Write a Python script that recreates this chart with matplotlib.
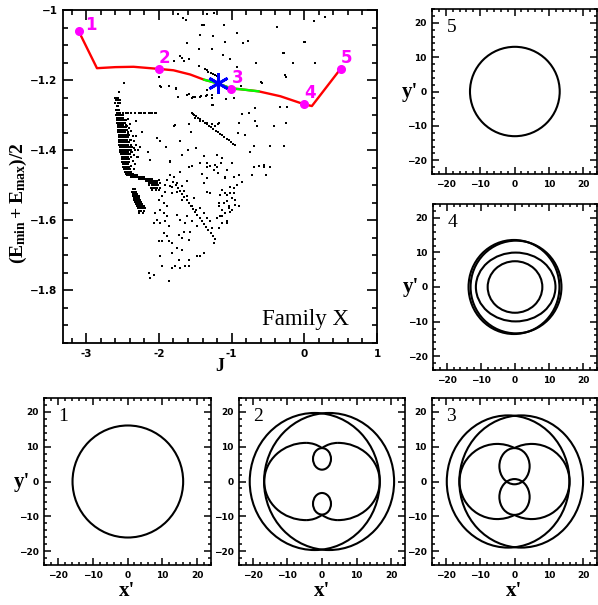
import numpy as np
import matplotlib
matplotlib.use('Agg')
import matplotlib.pyplot as plt
from matplotlib.patches import Ellipse, Arc
from matplotlib.ticker import MultipleLocator, FixedLocator, FuncFormatter

plt.rcParams['mathtext.fontset'] = 'custom'
plt.rcParams['mathtext.rm'] = 'Liberation Serif:bold'
plt.rcParams['mathtext.it'] = 'Liberation Serif:bold'
plt.rcParams['mathtext.bf'] = 'Liberation Serif:bold'

# ---------------- main panel data ----------------
family_J = [-3.105, -2.853, -2.60, -2.35, -2.005, -1.80, -1.57, -1.377, -1.194,
            -1.005, -0.88, -0.63, -0.33, -0.001, 0.104, 0.498]
family_E = [-1.060, -1.166, -1.163, -1.162, -1.168, -1.172, -1.184, -1.199, -1.209,
            -1.224, -1.226, -1.232, -1.246, -1.269, -1.274, -1.168]
stable_from, stable_to = 7, 11   # green (stable) section indices

orbit_J = [-3.105, -2.005, -1.005, -0.001, 0.498]
orbit_E = [-1.060, -1.168, -1.224, -1.269, -1.168]
orbit_labels = ['1', '2', '3', '4', '5']

star_J, star_E = -1.194, -1.209

upper_pts = [
    (-1.739, -1.010), (-1.634, -1.028), (-1.340, -1.011), (-1.239, -1.009), (-1.386, -1.044),
    (-1.106, -1.042), (-0.928, -1.066), (-0.781, -1.089), (-0.850, -1.095), (-1.088, -1.091),
    (-1.258, -1.075), (-1.441, -1.070), (-1.615, -1.094), (-1.271, -1.111), (-1.450, -1.112),
    (-1.125, -1.127), (-1.799, -1.146), (-1.716, -1.132), (-1.657, -1.146), (-1.455, -1.160),
    (-0.928, -1.163), (-1.996, -1.192), (-1.970, -1.219), (-1.771, -1.224), (-1.592, -1.241),
    (-1.744, -1.249), (-1.532, -1.249), (-1.500, -1.249), (-1.422, -1.246), (-1.350, -1.246),
    (-1.267, -1.243), (-1.267, -1.272), (-1.074, -1.254), (-0.859, -1.296), (-0.767, -1.293),
    (-0.684, -1.281), (-0.675, -1.317), (-0.597, -1.205), (-0.662, -1.150), (-0.377, -1.049),
    (-0.295, -1.122), (-0.161, -1.150), (0.011, -1.091), (0.131, -1.032), (0.141, -1.150),
    (-0.253, -1.191), (-0.337, -1.277), (-0.240, -1.277), (-0.253, -1.322), (-0.905, -1.322),
    (-1.533, -1.298), (-1.504, -1.308), (-1.432, -1.317), (-1.340, -1.322), (-1.271, -1.324),
    (-1.189, -1.324), (-1.780, -1.327), (-2.211, -1.295), (-2.120, -1.295), (-2.051, -1.295),
    (-1.670, -1.024), (-1.408, -1.043), (-0.009, -1.090), (0.289, -1.021), (-0.284, -1.123),
    (-0.261, -1.185), (-0.583, -1.207), (-1.592, -1.141), (-1.683, -1.138), (-1.867, -1.216),
    (-1.615, -1.242), (-1.339, -1.228), (-0.972, -1.252), (-0.872, -1.218), (-1.018, -1.141),
    (-1.372, -1.168), (-1.345, -1.172), (-1.320, -1.176), (-1.290, -1.180), (-1.260, -1.183),
    (-1.230, -1.186), (-1.200, -1.188), (-1.170, -1.190),
]

mid_pts = [
    (-2.486, -1.209), (-2.555, -1.233), (-1.982, -1.216), (-1.762, -1.223), (-1.743, -1.247),
    (-1.546, -1.252), (-1.431, -1.247), (-1.340, -1.242), (-1.271, -1.252), (-1.258, -1.271),
    (-1.592, -1.324), (-1.789, -1.332), (-2.234, -1.347), (-2.028, -1.366), (-1.982, -1.375),
    (-2.120, -1.427), (-1.844, -1.432), (-1.707, -1.375), (-1.684, -1.413), (-1.606, -1.399),
    (-1.556, -1.347), (-1.487, -1.394), (-1.386, -1.416), (-1.340, -1.437), (-1.203, -1.414),
    (-1.203, -1.447), (-1.134, -1.423), (-1.065, -1.456), (-0.996, -1.437), (-0.973, -1.475),
    (-1.088, -1.480), (-1.340, -1.480), (-1.386, -1.494), (-0.914, -1.351), (-1.180, -1.323),
    (-1.226, -1.332), (-1.661, -1.517), (-1.844, -1.470), (-1.890, -1.485), (-1.821, -1.504),
    (-1.134, -1.513), (-1.065, -1.527), (-1.019, -1.504), (-0.973, -1.523), (-1.180, -1.551),
    (-1.042, -1.566), (-0.950, -1.556), (-1.134, -1.589), (-1.065, -1.608),
    (-2.312, -1.318), (-2.257, -1.390), (-2.294, -1.420), (-2.156, -1.404), (-1.900, -1.390),
    (-0.743, -1.404), (-0.697, -1.389), (-0.560, -1.442), (-0.528, -1.470), (-0.468, -1.389),
    (-0.284, -1.389), (-0.422, -1.332), (-0.477, -1.447), (-0.651, -1.332), (-0.812, -1.356),
    (-0.688, -1.447),
]

fan_pts = [
    (-1.845, -1.435), (-1.707, -1.463), (-1.592, -1.448), (-1.547, -1.446), (-1.432, -1.437),
    (-1.409, -1.467), (-1.340, -1.448), (-1.294, -1.444), (-1.249, -1.456), (-1.226, -1.442),
    (-1.194, -1.465), (-1.148, -1.437), (-1.088, -1.477), (-0.905, -1.470), (-0.721, -1.470),
    (-0.630, -1.446), (-0.561, -1.448), (-0.529, -1.470), (-1.790, -1.475), (-1.615, -1.489),
    (-2.005, -1.484), (-1.913, -1.499), (-1.845, -1.503), (-1.913, -1.518), (-1.822, -1.522),
    (-1.753, -1.494), (-1.684, -1.503), (-1.753, -1.518), (-1.615, -1.532), (-1.684, -1.541),
    (-1.592, -1.551), (-1.524, -1.537), (-1.547, -1.560), (-1.487, -1.570), (-1.432, -1.565),
    (-1.386, -1.579), (-1.340, -1.594), (-1.294, -1.603), (-1.271, -1.622), (-1.226, -1.653),
    (-1.959, -1.532), (-2.005, -1.541), (-1.936, -1.551), (-1.890, -1.560), (-1.982, -1.570),
    (-2.051, -1.579), (-1.936, -1.579), (-1.890, -1.589), (-2.028, -1.598), (-2.074, -1.608),
    (-1.982, -1.608), (-1.913, -1.603), (-1.867, -1.617), (-1.936, -1.636), (-1.890, -1.646),
    (-1.959, -1.660), (-1.867, -1.660), (-1.822, -1.665), (-1.730, -1.641), (-1.661, -1.632),
    (-1.684, -1.650), (-1.592, -1.655), (-1.569, -1.632), (-1.638, -1.608), (-1.707, -1.598),
    (-1.753, -1.584), (-1.615, -1.589), (-1.547, -1.603), (-1.478, -1.617), (-1.753, -1.679),
    (-1.684, -1.684), (-1.822, -1.693), (-1.730, -1.712), (-1.776, -1.731), (-1.707, -1.736),
    (-1.638, -1.731), (-1.592, -1.731), (-1.592, -1.712), (-1.478, -1.703), (-1.432, -1.703),
    (-1.386, -1.693), (-1.982, -1.703), (-1.959, -1.731), (-2.005, -1.660), (-2.120, -1.764),
    (-2.074, -1.755), (-1.867, -1.774), (-1.822, -1.736), (-2.142, -1.750),
    (-1.340, -1.518), (-1.294, -1.522), (-1.157, -1.527), (-1.088, -1.522), (-1.019, -1.522),
    (-0.973, -1.508), (-0.927, -1.499), (-0.859, -1.492), (-1.180, -1.560), (-1.134, -1.570),
    (-1.111, -1.551), (-1.065, -1.546), (-0.996, -1.537), (-0.950, -1.541), (-1.042, -1.560),
    (-1.019, -1.575), (-1.088, -1.579), (-1.157, -1.589), (-1.203, -1.594), (-1.134, -1.608),
    (-1.065, -1.603), (-1.180, -1.622), (-0.996, -1.570), (-0.905, -1.560), (-1.249, -1.665),
]

band_edge_pts = [
    (-2.43, -1.310), (-2.40, -1.325), (-2.38, -1.345), (-2.36, -1.360), (-2.34, -1.375),
    (-2.37, -1.390), (-2.33, -1.400), (-2.35, -1.415), (-2.31, -1.385), (-2.36, -1.430),
    (-2.38, -1.445), (-2.34, -1.455), (-2.42, -1.350), (-2.39, -1.370), (-2.44, -1.330),
    (-2.30, -1.420), (-2.32, -1.360), (-2.45, -1.315), (-2.41, -1.338), (-2.35, -1.395),
    (-2.33, -1.440), (-2.37, -1.405), (-2.29, -1.400), (-2.40, -1.455),
]

# tight sequences of points (resonant chains)
chain1_J = [-1.55, -1.52, -1.49, -1.46, -1.43, -1.40, -1.37, -1.34, -1.31, -1.28, -1.25,
            -1.22, -1.19, -1.16, -1.13, -1.10, -1.07, -1.04, -1.01, -0.98, -0.95]
chain1_E = [-1.294, -1.299, -1.303, -1.308, -1.312, -1.317, -1.322, -1.326, -1.331, -1.335,
            -1.340, -1.344, -1.349, -1.354, -1.358, -1.363, -1.367, -1.372, -1.377, -1.381, -1.386]
chain2_J = [-1.80, -1.77, -1.74, -1.71, -1.68, -1.65, -1.62, -1.59, -1.56, -1.53, -1.50,
            -1.47, -1.44, -1.41, -1.38, -1.35, -1.32, -1.29, -1.26, -1.23]
chain2_E = [-1.490, -1.499, -1.507, -1.516, -1.524, -1.533, -1.542, -1.550, -1.559, -1.567,
            -1.576, -1.585, -1.593, -1.602, -1.610, -1.619, -1.628, -1.636, -1.645, -1.653]

# dense band (rows of E with their J values)
band_E = [-1.250, -1.258, -1.266, -1.275, -1.285, -1.295,
          -1.300, -1.307, -1.314, -1.321, -1.328, -1.335, -1.342, -1.349, -1.356, -1.363,
          -1.370, -1.377, -1.384, -1.391, -1.398, -1.405, -1.412, -1.419, -1.426, -1.433,
          -1.440, -1.447, -1.454, -1.461, -1.467, -1.472, -1.477, -1.482, -1.487, -1.493,
          -1.500, -1.507, -1.514,
          -1.512, -1.518, -1.524, -1.530, -1.536, -1.542, -1.548, -1.554, -1.560, -1.566,
          -1.572, -1.580]
band_J = [
    [-2.60, -2.58, -2.56],
    [-2.59, -2.57, -2.55, -2.53],
    [-2.60, -2.57, -2.54],
    [-2.58, -2.56],
    [-2.59, -2.57, -2.55],
    [-2.58, -2.56, -2.53, -2.50, -2.46, -2.42, -2.38, -2.33, -2.28, -2.24, -2.19, -2.14, -2.09, -2.04],
    [-2.585, -2.57, -2.555, -2.54, -2.52, -2.50],
    [-2.58, -2.565, -2.55, -2.535, -2.515, -2.49],
    [-2.58, -2.565, -2.55, -2.535, -2.52, -2.50, -2.48],
    [-2.575, -2.56, -2.545, -2.53, -2.515, -2.50, -2.47],
    [-2.57, -2.555, -2.54, -2.525, -2.51, -2.49, -2.46],
    [-2.57, -2.555, -2.54, -2.525, -2.51, -2.495, -2.475, -2.45],
    [-2.565, -2.55, -2.535, -2.52, -2.505, -2.49, -2.47, -2.44],
    [-2.56, -2.545, -2.53, -2.515, -2.50, -2.485, -2.465, -2.43],
    [-2.555, -2.54, -2.525, -2.51, -2.495, -2.48, -2.46, -2.44, -2.41],
    [-2.555, -2.54, -2.525, -2.51, -2.495, -2.48, -2.465, -2.45, -2.42],
    [-2.55, -2.535, -2.52, -2.505, -2.49, -2.475, -2.46, -2.44, -2.40],
    [-2.545, -2.53, -2.515, -2.50, -2.485, -2.47, -2.455, -2.43, -2.41],
    [-2.545, -2.53, -2.515, -2.50, -2.485, -2.47, -2.45, -2.43, -2.39],
    [-2.54, -2.525, -2.51, -2.495, -2.48, -2.465, -2.45, -2.42, -2.40],
    [-2.535, -2.52, -2.505, -2.49, -2.475, -2.46, -2.44, -2.41, -2.38],
    [-2.53, -2.515, -2.50, -2.485, -2.47, -2.455, -2.44, -2.42, -2.39],
    [-2.525, -2.51, -2.495, -2.48, -2.465, -2.45, -2.43, -2.40],
    [-2.515, -2.50, -2.485, -2.47, -2.455, -2.44, -2.42, -2.39],
    [-2.51, -2.495, -2.48, -2.465, -2.45, -2.435, -2.41],
    [-2.505, -2.49, -2.475, -2.46, -2.445, -2.43, -2.41],
    [-2.50, -2.485, -2.47, -2.455, -2.44, -2.42],
    [-2.49, -2.475, -2.46, -2.445, -2.43, -2.41],
    [-2.48, -2.465, -2.45, -2.435, -2.42],
    [-2.47, -2.455, -2.44, -2.425, -2.41, -2.39],
    [-2.46, -2.445, -2.43, -2.415, -2.40, -2.38, -2.36],
    [-2.44, -2.42, -2.40, -2.38, -2.36, -2.34, -2.32, -2.30],
    [-2.38, -2.36, -2.34, -2.32, -2.30, -2.28, -2.26, -2.24, -2.22, -2.20],
    [-2.28, -2.26, -2.24, -2.22, -2.20, -2.18, -2.16, -2.14, -2.12, -2.10],
    [-2.18, -2.16, -2.14, -2.12, -2.10, -2.08, -2.06, -2.04, -2.02],
    [-2.14, -2.11, -2.08, -2.05, -2.02, -1.99],
    [-2.13, -2.10, -2.07, -2.04, -2.01],
    [-2.11, -2.08, -2.05, -2.02, -1.99],
    [-2.09, -2.04, -2.00],
    [-2.36, -2.345, -2.33],
    [-2.365, -2.35, -2.335, -2.32],
    [-2.36, -2.345, -2.33, -2.315, -2.30],
    [-2.355, -2.34, -2.325, -2.31, -2.295, -2.28],
    [-2.35, -2.335, -2.32, -2.305, -2.29, -2.275],
    [-2.345, -2.33, -2.315, -2.30, -2.285, -2.27, -2.255],
    [-2.335, -2.32, -2.305, -2.29, -2.275, -2.26, -2.245],
    [-2.32, -2.305, -2.29, -2.275, -2.26, -2.245, -2.23],
    [-2.305, -2.29, -2.275, -2.26, -2.245, -2.23, -2.21],
    [-2.29, -2.275, -2.26, -2.245, -2.22, -2.19],
    [-2.28, -2.26, -2.24, -2.21],
    [-2.27, -2.22],
]

# ---------------- orbit panels data (x', y') ----------------
# closed loops: (xc, yc, width, height)
orbit1_loops = [(0.1, 0.0, 31.8, 32.2)]
orbit5_loops = [(0.1, 0.0, 26.1, 26.0)]
orbit4_loops = [(-0.3, 0.0, 26.6, 27.2), (0.3, 0.0, 26.6, 26.8),
                (0.2, 0.0, 23.3, 19.9), (0.0, 0.0, 16.0, 14.9)]
orbit2_loops = [(-2.1, 0.0, 37.6, 39.4), (2.05, 0.0, 37.6, 39.4),
                (0.0, 6.5, 5.2, 6.2), (0.0, -6.4, 5.2, 6.2)]
orbit3_loops = [(-1.85, 0.0, 35.7, 38.0), (1.95, 0.0, 36.0, 38.0),
                (0.0, 4.4, 8.8, 10.4), (0.0, -4.45, 8.8, 10.3)]
# open arcs: (xc, yc, width, height, theta1, theta2)
orbit2_arcs = [(-4.6, 0.0, 24.2, 22.2, 90, 270), (-4.6, 0.0, 18.4, 22.2, 64.4, 90),
               (-4.6, 0.0, 18.4, 22.2, 270, 295.6),
               (4.6, 0.0, 24.2, 22.2, -90, 90), (4.6, 0.0, 18.4, 22.2, 90, 115.6),
               (4.6, 0.0, 18.4, 22.2, 244.4, 270)]
orbit3_arcs = [(-5.0, 0.0, 22.0, 21.6, 62.2, 297.8),
               (5.0, 0.0, 22.0, 21.6, -117.8, 117.8)]

# ---------------- figure ----------------
fig = plt.figure(figsize=(5.98, 6.05), dpi=100)
W, H = 598.0, 605.0


def ax_px(x0, y0, x1, y1):
    return fig.add_axes([x0 / W, 1 - y1 / H, (x1 - x0) / W, (y1 - y0) / H])


# main panel
ax = ax_px(63, 10, 377, 343)
all_pts = upper_pts + mid_pts + fan_pts + band_edge_pts
sx = [p[0] for p in all_pts] + chain1_J + chain2_J
sy = [p[1] for p in all_pts] + chain1_E + chain2_E
for e, js in zip(band_E, band_J):
    sx += js
    sy += [e] * len(js)
ax.plot(family_J, family_E, color='#ff0000', lw=1.7, zorder=2)
ax.plot(family_J[stable_from:stable_to + 1], family_E[stable_from:stable_to + 1],
        color='#00ff00', lw=1.7, zorder=3)
ax.plot(sx, sy, ls='none', marker='s', ms=2.1, mew=0, color='black', zorder=4)
ax.plot(orbit_J, orbit_E, ls='none', marker='o', ms=5.5, color='#ff00ff', zorder=5)
for j, e, lab in zip(orbit_J, orbit_E, orbit_labels):
    off = (12, 6) if lab == '1' else (6, 11)
    ax.annotate(lab, (j, e), xytext=off, textcoords='offset pixels', ha='center',
                va='center', color='#ff00ff', fontsize=12, fontweight='bold', zorder=6)
ax.plot([star_J], [star_E], ls='none', marker=(6, 2, 0), ms=15, mew=2.0,
        color='#0000ff', zorder=7)
ax.text(0.02, -1.883, 'Family X', ha='center', va='center', fontsize=16.5,
        family='Liberation Serif')
ax.set_xlim(-3.32, 1.0)
ax.set_ylim(-1.95, -1.0)
ax.xaxis.set_major_locator(FixedLocator([-3, -2, -1, 0, 1]))
ax.xaxis.set_minor_locator(MultipleLocator(0.2))
ax.yaxis.set_major_locator(FixedLocator([-1.8, -1.6, -1.4, -1.2, -1.0]))
ax.yaxis.set_minor_locator(MultipleLocator(0.05))
ax.xaxis.set_major_formatter(FuncFormatter(lambda v, p: '%d' % round(v)))
ax.yaxis.set_major_formatter(FuncFormatter(lambda v, p: ('%g' % v).replace('-', '\u2212')))
ax.tick_params(which='both', direction='in', top=True, right=True, width=1.2)
ax.tick_params(which='major', length=7, labelsize=7.5, pad=4)
ax.tick_params(which='minor', length=3.5)
for lbl in ax.get_xticklabels() + ax.get_yticklabels():
    lbl.set_fontweight('bold')
for s in ax.spines.values():
    s.set_linewidth(1.3)
ax.set_xlabel('J', fontsize=13, fontweight='bold', family='Liberation Serif', va='center')
ax.xaxis.set_label_coords(0.5, -0.07)
ax.set_ylabel(r'$(E_{min}+E_{max})/2$', fontsize=14, va='center')
ax.yaxis.set_label_coords(-0.142, 0.42)


def orbit_panel(box, num, loops, arcs, xlabel, ylabel):
    a = ax_px(*box)
    for (xc, yc, w, h) in loops:
        a.add_patch(Ellipse((xc, yc), w, h, fill=False, ec='black', lw=1.5))
    for (xc, yc, w, h, t1, t2) in arcs:
        a.add_patch(Arc((xc, yc), w, h, theta1=t1, theta2=t2, ec='black', lw=1.5))
    a.set_xlim(-24, 24)
    a.set_ylim(-24, 24)
    for axis in (a.xaxis, a.yaxis):
        axis.set_major_locator(FixedLocator([-20, -10, 0, 10, 20]))
        axis.set_minor_locator(MultipleLocator(2))
    a.tick_params(which='both', direction='in', top=True, right=True, width=1.1)
    a.tick_params(which='major', length=5, labelsize=6.5, pad=4)
    a.tick_params(which='minor', length=2.5)
    for lbl in a.get_xticklabels() + a.get_yticklabels():
        lbl.set_fontweight('bold')
    for s in a.spines.values():
        s.set_linewidth(1.2)
    a.text(-18.4, 18.7, num, ha='center', va='center', fontsize=14,
           family='Liberation Serif')
    if xlabel:
        a.set_xlabel("x'", fontsize=15, fontweight='bold', family='Liberation Serif',
                     va='center')
        a.xaxis.set_label_coords(0.5, -0.155)
    if ylabel:
        a.set_ylabel("y'", fontsize=15, fontweight='bold', family='Liberation Serif',
                     rotation=0, va='center', ha='center')
        a.yaxis.set_label_coords(-0.135, 0.5)
    return a


orbit_panel((432, 9, 597, 174), '5', orbit5_loops, [], False, True)
orbit_panel((433, 204, 597, 370), '4', orbit4_loops, [], False, True)
orbit_panel((44, 398, 211, 565), '1', orbit1_loops, [], True, True)
orbit_panel((239, 398, 405, 565), '2', orbit2_loops, orbit2_arcs, True, False)
orbit_panel((432, 398, 597, 565), '3', orbit3_loops, orbit3_arcs, True, False)

fig.savefig('out.png', dpi=100)
